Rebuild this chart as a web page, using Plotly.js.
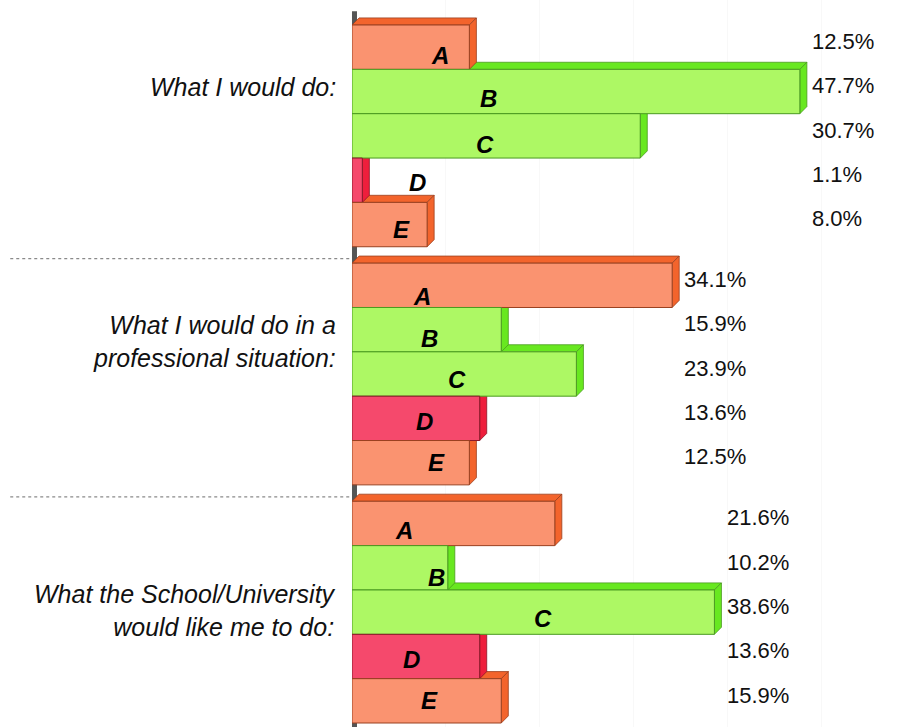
<!DOCTYPE html>
<html>
<head>
<meta charset="utf-8">
<script src="https://cdn.plot.ly/plotly-3.0.1.min.js"></script>
<style>html,body{margin:0;padding:0;background:#fff;}#chart{width:905px;height:727px;}</style>
</head>
<body>
<div id="chart"></div>
<script>
// ---- data ----
const categories = ['What I would do:', 'What I would do in a<br>professional situation:', 'What the School/University<br>would like me to do:'];
const options = ['A', 'B', 'C', 'D', 'E'];
const whatIWouldDo = [12.5, 47.7, 30.7, 1.1, 8.0];
const professionalSituation = [34.1, 15.9, 23.9, 13.6, 12.5];
const schoolWouldLike = [21.6, 10.2, 38.6, 13.6, 15.9];
const groups = [whatIWouldDo, professionalSituation, schoolWouldLike];

// ---- layout / styling ----
const P = 5.37;          // group period in bar units
const dx = 0.75, dy = 0.16; // 3D depth in axis units
const style = {
  A: {front: '#FA9370', face: '#F3642C', line: '#9a4020'},
  B: {front: '#ADF864', face: '#68E820', line: '#4a9a20'},
  C: {front: '#ADF864', face: '#68E820', line: '#4a9a20'},
  D: {front: '#F5496C', face: '#EE1E3C', line: '#8a1828'},
  E: {front: '#FA9370', face: '#F3642C', line: '#9a4020'}
};
// letter label placement (x in %, y offset in bar units) - layout only
const letterPos = [
  [[9.4, 0.18], [14.5, 0.15], [14.2, 0.2], [7.0, 0.05], [5.3, 0.1]],
  [[7.5, 0.25], [8.3, 0.2], [11.2, 0.13], [7.7, 0.07], [9.05, 0.0]],
  [[5.5, 0.15], [9.05, 0.22], [20.3, 0.15], [6.3, 0.07], [8.3, 0.0]]
];
const catLabelY = [0.9, 1.27, 1.97];

const xs = [], ys = [], colors = [], lines = [];
const shapes = [], annotations = [];

// axis wall
shapes.push({type: 'line', xref: 'paper', yref: 'y', x0: 0.0045, x1: 0.0045, y0: -0.5 - dy - 0.15, y1: 2 * P + 4.6,
  line: {color: '#555', width: 5}, layer: 'between'});

groups.forEach((vals, g) => {
  vals.forEach((v, i) => {
    const y = g * P + i;
    const o = options[i];
    xs.push(v); ys.push(y);
    colors.push(style[o].front); lines.push(style[o].line);
  });
  // 3D faces, bottom bar first so upper bars overlay
  for (let i = vals.length - 1; i >= 0; i--) {
    const v = vals[i];
    const y = g * P + i;
    const yt = y - 0.5, yb = y + 0.5;
    const s = style[options[i]];
    shapes.push({type: 'path', xref: 'x', yref: 'y', layer: 'between',
      path: `M0,${yt} L${v},${yt} L${v + dx},${yt - dy} L${dx},${yt - dy} Z`,
      fillcolor: s.face, line: {color: s.line, width: 0.8}});
    shapes.push({type: 'path', xref: 'x', yref: 'y', layer: 'between',
      path: `M${v},${yt} L${v + dx},${yt - dy} L${v + dx},${yb - dy} L${v},${yb} Z`,
      fillcolor: s.face, line: {color: s.line, width: 0.8}});
  }
  // separator
  if (g > 0) {
    shapes.push({type: 'line', xref: 'paper', yref: 'y', x0: -0.618, x1: 0,
      y0: g * P - 0.5 - 0.1, y1: g * P - 0.5 - 0.1,
      line: {color: '#8a8a8a', width: 1.2, dash: 'dot'}, layer: 'between'});
  }
  // value labels
  const mx = Math.max(...vals);
  vals.forEach((v, i) => {
    annotations.push({xref: 'x', yref: 'y', x: mx + 1.1, y: g * P + i - 0.13,
      text: v.toFixed(1) + '%', showarrow: false, xanchor: 'left', yanchor: 'middle',
      font: {family: 'Liberation Sans, Arial, sans-serif', size: 22, color: '#111'}});
    annotations.push({xref: 'x', yref: 'y', x: letterPos[g][i][0], y: g * P + i + letterPos[g][i][1],
      text: '<b><i>' + options[i] + '</i></b>', showarrow: false, xanchor: 'center', yanchor: 'middle',
      font: {family: 'Liberation Sans, Arial, sans-serif', size: 24, color: '#000'}});
  });
  // category label
  annotations.push({xref: 'x', yref: 'y', x: 0, xshift: -14, y: g * P + catLabelY[g],
    text: '<i>' + categories[g] + '</i>', showarrow: false, xanchor: 'right', yanchor: 'middle', align: 'right',
    font: {family: 'Liberation Sans, Arial, sans-serif', size: 25, color: '#111'}});
});

const trace = {
  type: 'bar', orientation: 'h', x: xs, y: ys, width: 1,
  marker: {color: colors, line: {color: lines, width: 1}},
  hoverinfo: 'skip', showlegend: false
};

const layout = {
  width: 905, height: 727,
  margin: {l: 352, r: 0, t: 0, b: 0},
  paper_bgcolor: '#fff', plot_bgcolor: '#fff',
  xaxis: {range: [0, 58.9], showgrid: true, gridcolor: '#f8f8f8', dtick: 10, zeroline: false,
    showticklabels: false, ticks: '', showline: false, fixedrange: true},
  yaxis: {range: [15.33, -1.064], showgrid: false, zeroline: false, showticklabels: false,
    ticks: '', showline: false, fixedrange: true},
  bargap: 0,
  shapes: shapes,
  annotations: annotations,
  showlegend: false
};

Plotly.newPlot('chart', [trace], layout, {displayModeBar: false, staticPlot: true});
</script>
</body>
</html>
